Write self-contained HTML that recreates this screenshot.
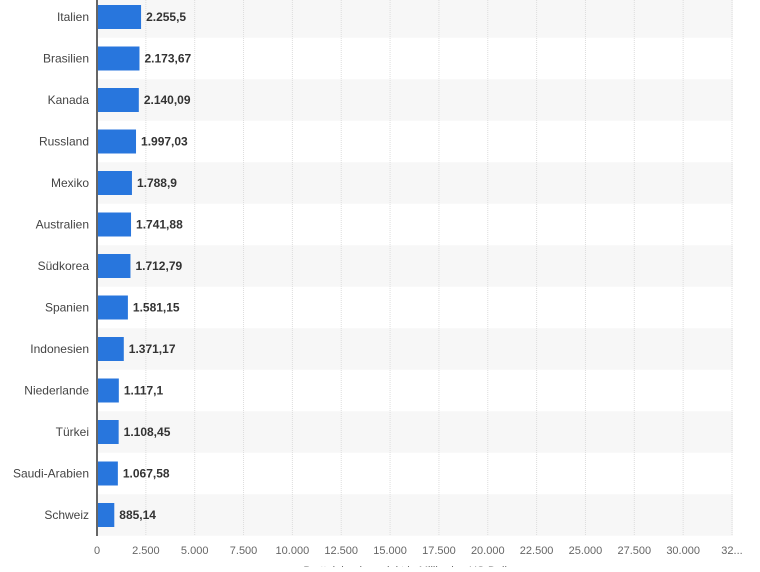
<!DOCTYPE html>
<html><head><meta charset="utf-8"><style>
body{margin:0;background:#fff;width:760px;height:567px;overflow:hidden;font-family:"Liberation Sans",sans-serif}
</style></head><body>
<svg id="chart" width="760" height="567" xmlns="http://www.w3.org/2000/svg">
<g id="bands"></g><g id="grid"></g><g id="bars"></g><g id="labels"></g><g id="ticks"></g>
<line x1="97" y1="0" x2="97" y2="536" stroke="#666" stroke-width="2"/>
<text x="410" y="574" text-anchor="middle" font-size="11" fill="#666">Bruttoinlandsprodukt in Milliarden US-Dollar</text>
</svg>
<script>
const categories=["Italien","Brasilien","Kanada","Russland","Mexiko","Australien","Südkorea","Spanien","Indonesien","Niederlande","Türkei","Saudi-Arabien","Schweiz"];
const values=[2255.5,2173.67,2140.09,1997.03,1788.9,1741.88,1712.79,1581.15,1371.17,1117.1,1108.45,1067.58,885.14];
const valueLabels=["2.255,5","2.173,67","2.140,09","1.997,03","1.788,9","1.741,88","1.712,79","1.581,15","1.371,17","1.117,1","1.108,45","1.067,58","885,14"];
const tickValues=[0,2500,5000,7500,10000,12500,15000,17500,20000,22500,25000,27500,30000,32500];
const tickLabels=["0","2.500","5.000","7.500","10.000","12.500","15.000","17.500","20.000","22.500","25.000","27.500","30.000","32..."];
const NS="http://www.w3.org/2000/svg";
const x=v=>97+v*(635/32500);
const rowH=41.5, yc=i=>17+i*rowH;
function mk(t,a,p){const e=document.createElementNS(NS,t);for(const k in a)e.setAttribute(k,a[k]);document.getElementById(p).appendChild(e);return e;}
categories.forEach((c,i)=>{
 if(i%2===0){const b=mk("rect",{x:97,y:yc(i)-rowH/2,width:636,height:rowH,fill:"#f7f7f7"},"bands");
 
 }
 const r=mk("rect",{x:97,y:yc(i)-12,width:x(values[i])-97,height:24,fill:"#2876dd"},"bars");
 
 
 const l=mk("text",{x:89,y:yc(i)+4,"text-anchor":"end","font-size":"12",fill:"#444"},"labels");l.textContent=c;
 
 
 const v=mk("text",{x:x(values[i])+5,y:yc(i)+4,"font-size":"12","font-weight":"bold",fill:"#333"},"labels");v.textContent=valueLabels[i];
 
 
});
tickValues.forEach((t,i)=>{
 if(i>0){const g=mk("line",{x1:x(t),y1:0,x2:x(t),y2:536,stroke:"#ddd","stroke-dasharray":"1,1"},"grid");
 
 }
 const tx=mk("text",{x:x(t),y:554,"text-anchor":"middle","font-size":"11",fill:"#666"},"ticks");tx.textContent=tickLabels[i];
 
 
});
</script>
</body></html>
